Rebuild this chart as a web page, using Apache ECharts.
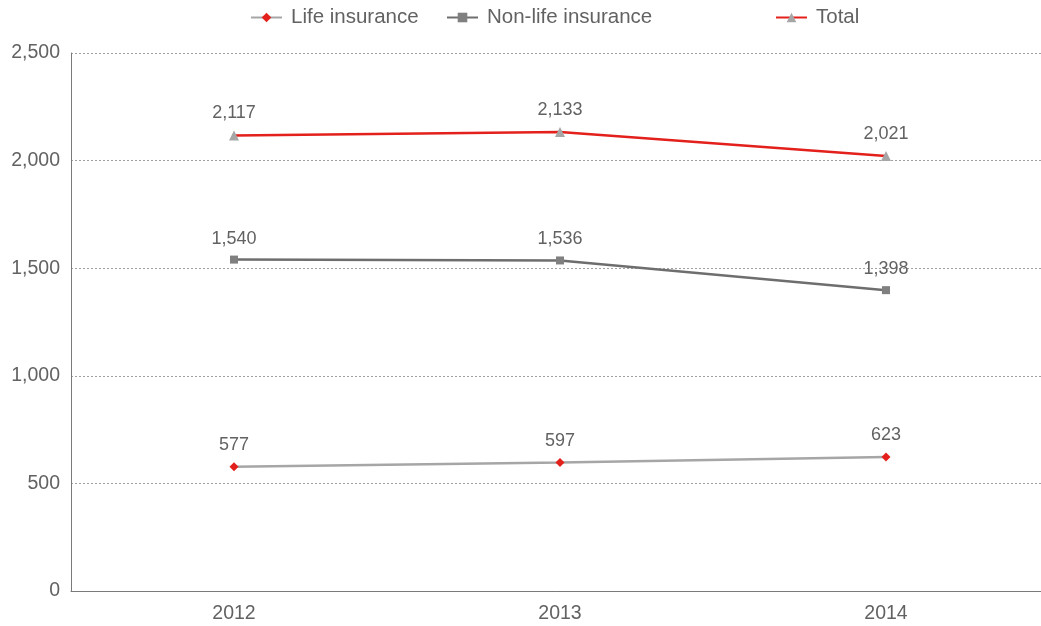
<!DOCTYPE html>
<html>
<head>
<meta charset="utf-8">
<script src="https://cdn.jsdelivr.net/npm/echarts@6/dist/echarts.min.js"></script>
<style>
  html, body { margin: 0; padding: 0; background: #fff; }
  #chart { width: 1041px; height: 626px; }
</style>
</head>
<body>
<div id="chart"></div>
<script>
// Premiums by year (in millions)
const years = ['2012', '2013', '2014'];
const lifeInsurance = [577, 597, 623];
const nonLifeInsurance = [1540, 1536, 1398];
const total = [2117, 2133, 2021];
const yTicks = [0, 500, 1000, 1500, 2000, 2500];
const seriesNames = ['Life insurance', 'Non-life insurance', 'Total'];

const fontFamily = '"Liberation Sans", Arial, sans-serif';
const textGray = '#626262';
const fmt = v => v.toLocaleString('en-US');

const labelStyle = {
  show: true,
  position: 'top',
  distance: 8,
  color: textGray,
  fontSize: 18,
  fontFamily: fontFamily,
  formatter: p => fmt(p.value)
};

// one legend block per series so each entry sits in its own slot
const legendLefts = [250, 446, 775];
const legends = seriesNames.map((name, i) => ({
  top: 7,
  left: legendLefts[i],
  padding: 0,
  itemWidth: 31,
  itemHeight: 12,
  textStyle: { color: textGray, fontSize: 20.5, fontFamily: fontFamily, padding: [0, 0, 0, 4] },
  data: [name]
}));

const chart = echarts.init(document.getElementById('chart'), null, { renderer: 'canvas' });

chart.setOption({
  animation: false,
  backgroundColor: '#ffffff',
  legend: legends,
  // the plot area runs a little past the right edge of the canvas
  grid: { left: 71, width: 978, top: 53, bottom: 35, outerBoundsMode: 'none' },
  xAxis: {
    type: 'category',
    data: years,
    boundaryGap: true,
    axisLine: { lineStyle: { color: '#7a7a7a', width: 1 } },
    axisTick: { show: false },
    axisLabel: { color: textGray, fontSize: 19.5, fontFamily: fontFamily, margin: 13 }
  },
  yAxis: {
    type: 'value',
    min: yTicks[0],
    max: yTicks[yTicks.length - 1],
    interval: 500,
    axisLine: { show: true, lineStyle: { color: '#7a7a7a', width: 1 } },
    axisTick: { show: false },
    axisLabel: { color: textGray, fontSize: 19.5, fontFamily: fontFamily, margin: 11, formatter: v => fmt(v) },
    splitLine: { lineStyle: { color: '#a0a0a0', type: [2, 2], width: 1 } }
  },
  series: [
    {
      name: seriesNames[0],
      type: 'line',
      data: lifeInsurance,
      symbol: 'diamond',
      symbolSize: 9,
      lineStyle: { color: '#a6a6a6', width: 2.5 },
      itemStyle: { color: '#e3201b' },
      label: labelStyle
    },
    {
      name: seriesNames[1],
      type: 'line',
      data: nonLifeInsurance,
      symbol: 'rect',
      symbolSize: 8,
      lineStyle: { color: '#6e6e6e', width: 2.5 },
      itemStyle: { color: '#808080' },
      label: labelStyle
    },
    {
      name: seriesNames[2],
      type: 'line',
      data: total,
      symbol: 'triangle',
      symbolSize: 10,
      lineStyle: { color: '#e3201b', width: 2.5 },
      itemStyle: { color: '#a6a6a6' },
      label: labelStyle
    }
  ]
});
</script>
</body>
</html>
